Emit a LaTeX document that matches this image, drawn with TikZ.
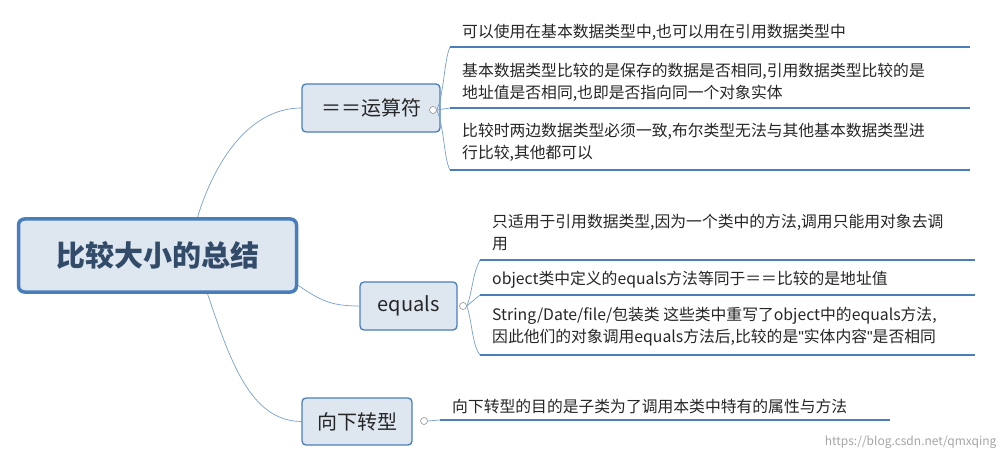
\documentclass[tikz,border=0pt]{standalone}
\usepackage{fontspec}
\setmainfont{Noto Sans CJK SC}
\newfontfamily\latq{Liberation Sans}
\begin{document}
\begin{tikzpicture}[x=1pt,y=-1pt,
  branch/.style={draw={rgb,255:red,74;green,126;blue,187},line width=1.3pt,rounded corners=4pt,fill={rgb,255:red,222;green,230;blue,240},font=\fontsize{20}{22}\selectfont,text=black!85,anchor=center},
  leaf/.style={anchor=west,align=left,font=\fontsize{15.8}{22}\selectfont,text=black!85,inner sep=0pt},
  uline/.style={draw={rgb,255:red,74;green,126;blue,187},line width=2.2pt},
  conn/.style={draw={rgb,255:red,120;green,160;blue,205},line width=0.7pt},
  knob/.style={circle,draw=gray,fill=white,inner sep=0pt,minimum size=7pt,line width=0.5pt}]
\useasboundingbox (0,0) rectangle (1008,462);
\fill[white] (0,0) rectangle (1008,462);
% root
\node[draw={rgb,255:red,74;green,126;blue,187},line width=3.5pt,rounded corners=6pt,fill={rgb,255:red,222;green,230;blue,240},minimum width=278pt,minimum height=73pt,font=\fontsize{29}{32}\selectfont\bfseries,text={rgb,255:red,50;green,75;blue,105}] (root) at (157.5,255.5) {比较大小的总结};
% branches
\node[branch,minimum width=138pt,minimum height=48pt] (b1) at (371,108) {＝＝运算符};
\node[branch,minimum width=97pt,minimum height=48pt] (b2) at (408.5,306) {equals};
\node[branch,minimum width=110pt,minimum height=47pt] (b3) at (357,421.5) {向下转型};
\draw[conn] (root.north) ++(40,0) coordinate (r1) .. controls (215,160) and (250,108) .. (b1.west);
\draw[conn] (root.east) ++(0,30) coordinate (r2) .. controls (320,300) and (330,306) .. (b2.west);
\draw[conn] (root.south) ++(50,0) coordinate (r3) .. controls (230,360) and (250,421) .. (b3.west);
% knobs
\node[knob] (k1) at (433,110) {};
\node[knob] (k2) at (463,306) {};
\node[knob] (k3) at (424,421) {};
% branch 1 leaves
\coordinate (u11) at (450,47); \coordinate (u12) at (450,108); \coordinate (u13) at (450,170);
\draw[conn] (k1.east) -- (u12);
\draw[conn] (u11) .. controls (444,60) and (444,95) .. (k1.east) .. controls (444,125) and (444,160) .. (u13);
\draw[uline] (u11) -- (970,47);
\draw[uline] (u12) -- (970,108);
\draw[uline] (u13) -- (970,170);
\node[leaf] (l11) at (462,32) {可以使用在基本数据类型中,也可以用在引用数据类型中};
\node[leaf] (l12) at (462,82) {基本数据类型比较的是保存的数据是否相同,引用数据类型比较的是\\地址值是否相同,也即是否指向同一个对象实体};
\node[leaf] (l13) at (462,142) {比较时两边数据类型必须一致,布尔类型无法与其他基本数据类型进\\行比较,其他都可以};
% branch 2 leaves
\coordinate (u21) at (480,260); \coordinate (u22) at (480,295); \coordinate (u23) at (480,355);
\draw[conn] (u21) .. controls (472,275) and (472,295) .. (k2.east) .. controls (472,320) and (472,345) .. (u23);
\draw[conn] (k2.east) -- (u22);
\draw[uline] (u21) -- (975,260);
\draw[uline] (u22) -- (975,295);
\draw[uline] (u23) -- (975,355);
\node[leaf] (l21) at (492,232) {只适用于引用数据类型,因为一个类中的方法,调用只能用对象去调\\用};
\node[leaf] (l22) at (492,280) {object类中定义的equals方法等同于＝＝比较的是地址值};
\node[leaf] (l23) at (492,327) {String/Date/file/包装类 这些类中重写了object中的equals方法,\\因此他们的对象调用equals方法后,比较的是{\latq"}实体内容{\latq"}是否相同};
% branch 3 leaf
\coordinate (u31) at (440,420);
\draw[conn] (k3.east) -- (u31);
\draw[uline] (u31) -- (890,420);
\node[leaf] (l31) at (452,406) {向下转型的目的是子类为了调用本类中特有的属性与方法};
\node[anchor=east,font=\fontsize{12}{14}\selectfont,text=gray!70] (wm) at (1000,442) {https://blog.csdn.net/qmxqing};
\end{tikzpicture}
\end{document}
